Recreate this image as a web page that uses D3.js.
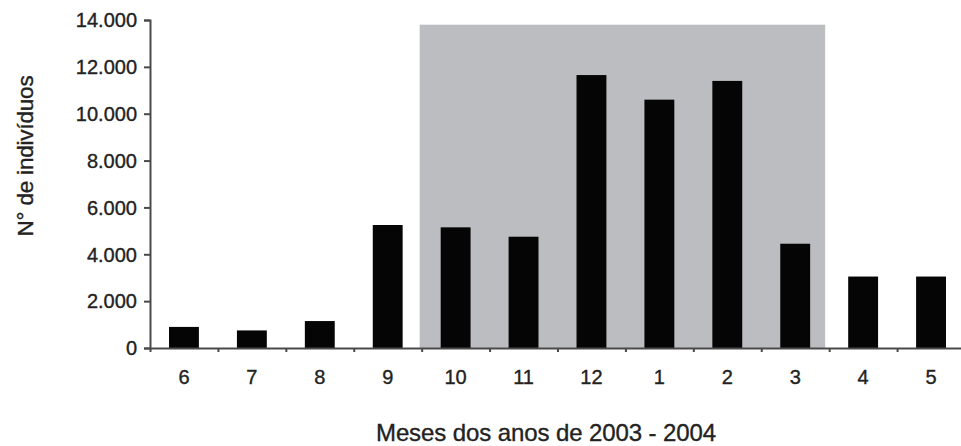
<!DOCTYPE html>
<html>
<head>
<meta charset="utf-8">
<script src="https://cdn.jsdelivr.net/npm/d3@7"></script>
<style>
  html, body { margin: 0; padding: 0; background: #fff; }
  svg { display: block; }
  text { font-family: "Liberation Sans", Arial, sans-serif; fill: #222; stroke: #222; stroke-width: 0.35px; }
</style>
</head>
<body>
<svg id="chart" width="961" height="446"></svg>
<script>
// ---- data ----
const months = ["6", "7", "8", "9", "10", "11", "12", "1", "2", "3", "4", "5"];
const individuals = [900, 750, 1150, 5250, 5150, 4750, 11650, 10600, 11400, 4450, 3050, 3050];
const yTicks = [0, 2000, 4000, 6000, 8000, 10000, 12000, 14000];
const shadedMonths = ["10", "3"];   // first and last month of shaded period
const shadedTop = [13800];
const xTitle = "Meses dos anos de 2003 - 2004";
const yTitle = "N° de indivíduos";

// ---- layout ----
const svg = d3.select("#chart");
const mLeft = 150, mRight = 965, mTop = 20, mBottom = 348;

const x = d3.scaleBand().domain(months).range([mLeft, mRight])
  .paddingInner(0.56).paddingOuter(0.28);
const slot = d3.scaleLinear().domain([0, months.length]).range([mLeft, mRight]);
const y = d3.scaleLinear().domain([0, 14000]).range([mBottom, mTop]);

const loc = d3.formatLocale({ decimal: ",", thousands: ".", grouping: [3], currency: ["", ""] });
const fmt = loc.format(",");

// shaded period
const i0 = months.indexOf(shadedMonths[0]);
const i1 = months.indexOf(shadedMonths[1]);
svg.append("rect")
  .attr("x", slot(i0) - 2)
  .attr("y", y(shadedTop[0]))
  .attr("width", slot(i1 + 1) - slot(i0) - 2)
  .attr("height", y(0) - y(shadedTop[0]))
  .attr("fill", "#bcbdc0");

// bars
svg.append("g").selectAll("rect")
  .data(months.map((m, i) => ({ m, v: individuals[i] })))
  .join("rect")
  .attr("x", d => x(d.m))
  .attr("y", d => y(d.v))
  .attr("width", x.bandwidth())
  .attr("height", d => y(0) - y(d.v))
  .attr("fill", "#050505");

// y axis
const yAxis = svg.append("g")
  .attr("transform", `translate(${mLeft},0)`)
  .call(d3.axisLeft(y).tickValues(yTicks).tickFormat(fmt).tickSize(6).tickPadding(7));
yAxis.selectAll("text").style("font-size", "20px").attr("dy", "0.34em");

// x axis: boundary ticks
const xb = svg.append("g")
  .attr("transform", `translate(0,${mBottom})`)
  .call(d3.axisBottom(slot).tickValues(d3.range(0, months.length + 1)).tickFormat("").tickSize(4).tickSizeOuter(0));
xb.selectAll("text").remove();

// x labels
const xl = svg.append("g")
  .attr("transform", `translate(0,${mBottom})`)
  .call(d3.axisBottom(x).tickSize(0).tickPadding(22));
xl.select(".domain").remove();
xl.selectAll("text").style("font-size", "20px");

svg.selectAll(".domain, .tick line").attr("stroke", "#4a4a4a").attr("stroke-width", 2);

// titles
svg.append("text")
  .attr("x", 546).attr("y", 441)
  .attr("text-anchor", "middle")
  .style("font-size", "24px")
  .style("letter-spacing", "-0.1px")
  .text(xTitle);

svg.append("text")
  .attr("transform", "translate(33,156) rotate(-90)")
  .attr("text-anchor", "middle")
  .style("font-size", "22.5px")
  .style("letter-spacing", "-0.2px")
  .text(yTitle);
</script>
</body>
</html>
